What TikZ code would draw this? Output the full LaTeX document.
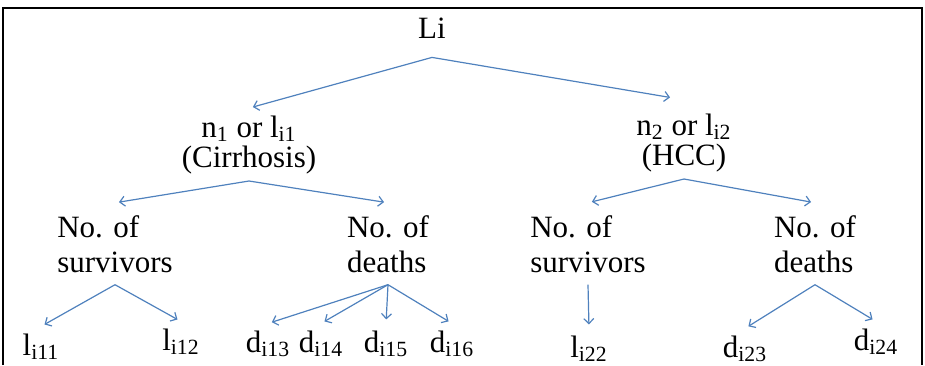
\documentclass[tikz,border=0pt]{standalone}
\usepackage{fontspec}
\setmainfont{Liberation Serif}
\usetikzlibrary{arrows.meta}
\definecolor{arrowblue}{RGB}{79,129,189}

\begin{document}
\begin{tikzpicture}[x=0.5pt,y=-0.5pt,
    every node/.style={anchor=base,font=\fontsize{15.5}{15}\selectfont},
    rootnode/.style={inner ysep=9.5pt},
    classnode/.style={align=center,inner ysep=3.5pt},
    countnode/.style={align=left,inner ysep=6pt,font=\fontsize{15.5}{17.5}\selectfont},
    arr/.style={color=arrowblue,line width=0.6pt,
      -{Straight Barb[length=2.5pt,width=5pt]},shorten >=2pt}]
  \useasboundingbox (0,0) rectangle (925,365);
  \draw[line width=1.1pt] (3,365) -- (3,8) -- (922,8) -- (922,365);

  \node[rootnode] (li) at (432,38) {Li};
  \node[classnode] (cirr) at (249,167) {n\textsubscript{1} or l\textsubscript{i1}\\(Cirrhosis)};
  \node[classnode] (hcc) at (684,165) {n\textsubscript{2} or l\textsubscript{i2}\\(HCC)};
  \node[countnode] (surv1) at (115,272) {No. of\\survivors};
  \node[countnode] (death1) at (388,272) {No. of\\deaths};
  \node[countnode] (surv2) at (588,272) {No. of\\survivors};
  \node[countnode] (death2) at (815,272) {No. of\\deaths};
  \node (l11) at (41,355) {l\textsubscript{i11}};
  \node (l12) at (181,350) {l\textsubscript{i12}};
  \node (d13) at (268,352) {d\textsubscript{i13}};
  \node (d14) at (321,352) {d\textsubscript{i14}};
  \node (d15) at (386,352) {d\textsubscript{i15}};
  \node (d16) at (452,352) {d\textsubscript{i16}};
  \node (l22) at (589,357) {l\textsubscript{i22}};
  \node (d23) at (745,357) {d\textsubscript{i23}};
  \node (d24) at (876,350) {d\textsubscript{i24}};

  \path[arr]
    (li.south) edge (cirr.north)
               edge ([xshift=-5pt,yshift=4pt]hcc.north)
    (cirr.south) edge (surv1.north)
                 edge (death1.north)
    (hcc.south) edge (surv2.north)
                edge (death2.north)
    (surv1.south) edge (l11.north)
                  edge (l12.north)
    (death1.south) edge (d13.north)
                   edge (d14.north)
                   edge (d15.north)
                   edge (d16.north)
    (surv2.south) edge (l22.north)
    (death2.south) edge (d23.north)
                   edge (d24.north);
\end{tikzpicture}
\end{document}
